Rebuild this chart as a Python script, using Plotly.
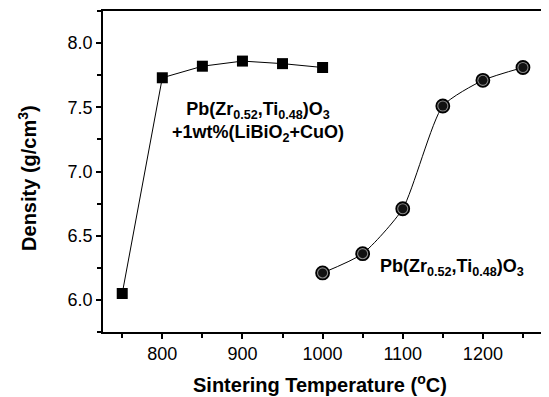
import plotly.graph_objects as go

temp_doped = [750, 800, 850, 900, 950, 1000]
dens_doped = [6.05, 7.73, 7.82, 7.86, 7.84, 7.81]
temp_pure = [1000, 1050, 1100, 1150, 1200, 1250]
dens_pure = [6.21, 6.36, 6.71, 7.51, 7.71, 7.81]

x_ticks = [800, 900, 1000, 1100, 1200]
y_ticks = [6.0, 6.5, 7.0, 7.5, 8.0]

fig = go.Figure()
fig.add_trace(go.Scatter(x=temp_doped, y=dens_doped, mode="lines+markers",
                         line=dict(color="black", width=1),
                         marker=dict(symbol="square", size=11, color="black"),
                         showlegend=False))
fig.add_trace(go.Scatter(x=temp_pure, y=dens_pure, mode="lines",
                         line=dict(color="black", width=1, shape="spline", smoothing=0.6),
                         showlegend=False))
fig.add_trace(go.Scatter(x=temp_pure, y=dens_pure, mode="markers",
                         marker=dict(symbol="circle", size=13, color="#888888",
                                     line=dict(color="black", width=1.8)),
                         showlegend=False))
fig.add_trace(go.Scatter(x=temp_pure, y=dens_pure, mode="markers",
                         marker=dict(symbol="circle", size=9, color="#111111"),
                         showlegend=False))

fnt = "Liberation Sans, Arial, sans-serif"
fig.add_annotation(x=919, y=7.385, xref="x", yref="y", showarrow=False,
                   text="<b>Pb(Zr<sub>0.52</sub>,Ti<sub>0.48</sub>)O<sub>3</sub><br>+1wt%(LiBiO<sub>2</sub>+CuO)</b>",
                   font=dict(family=fnt, size=18, color="black"), align="center")
fig.add_annotation(x=1069, y=6.25, xref="x", yref="y", showarrow=False, xanchor="left",
                   text="<b>Pb(Zr<sub>0.52</sub>,Ti<sub>0.48</sub>)O<sub>3</sub></b>",
                   font=dict(family=fnt, size=18, color="black"))
# axis titles
fig.add_annotation(x=0.493, y=0, xref="paper", yref="paper", yshift=-51, showarrow=False,
                   xanchor="center", yanchor="middle",
                   text="<b>Sintering Temperature (<sup>o</sup>C)</b>",
                   font=dict(family=fnt, size=20, color="black"))
fig.add_annotation(x=0, y=0.48, xref="paper", yref="paper", xshift=-75, showarrow=False,
                   xanchor="center", yanchor="middle", textangle=-90,
                   text="<b>Density (g/cm<sup>3</sup>)</b>",
                   font=dict(family=fnt, size=20, color="black"))

fig.update_xaxes(range=[726, 1275], tickvals=x_ticks, ticktext=[str(v) for v in x_ticks],
                 ticks="outside", ticklen=5, tickwidth=1.5, tickcolor="black",
                 minor=dict(dtick=50, tick0=750, ticks="outside", ticklen=4, tickcolor="black"),
                 showline=True, linecolor="black", linewidth=1.5, mirror=True,
                 showgrid=False, zeroline=False,
                 tickfont=dict(family=fnt, size=18, color="black"))
fig.update_yaxes(range=[5.75, 8.25], tickvals=y_ticks, ticktext=["%.1f" % v for v in y_ticks],
                 ticks="outside", ticklen=5, tickwidth=1.5, tickcolor="black",
                 minor=dict(dtick=0.25, tick0=6.0, ticks="outside", ticklen=4, tickcolor="black"),
                 showline=True, linecolor="black", linewidth=1.5, mirror=True,
                 showgrid=False, zeroline=False,
                 tickfont=dict(family=fnt, size=18, color="black"))

fig.update_layout(width=541, height=389, margin=dict(l=95, r=6, t=1, b=65),
                  plot_bgcolor="white", paper_bgcolor="white")
fig.write_html("out.html")
